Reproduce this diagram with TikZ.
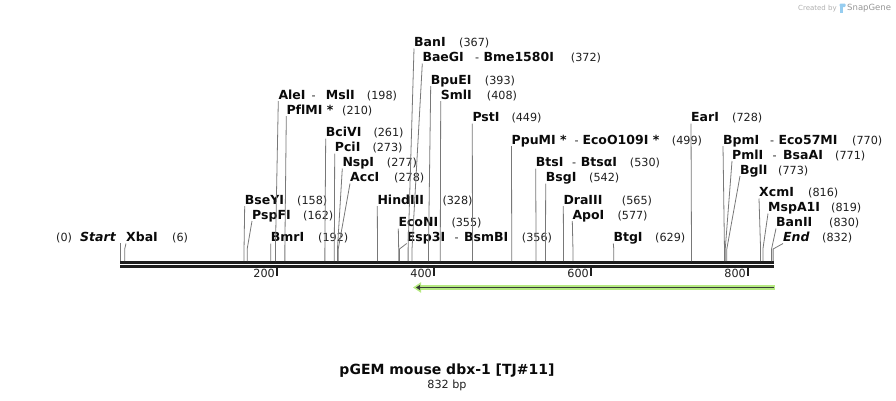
\documentclass[tikz,border=0pt]{standalone}
\usepackage{fontspec}
\setmainfont{DejaVu Sans}[Ligatures=NoCommon]
\usetikzlibrary{arrows.meta}
\definecolor{ink}{RGB}{10,10,10}
\definecolor{numink}{RGB}{30,30,30}
\definecolor{leadgrey}{RGB}{120,120,120}
\definecolor{barblack}{RGB}{30,30,30}
\definecolor{featgreen}{RGB}{182,234,130}
\definecolor{featdark}{RGB}{55,60,55}
\definecolor{credit}{RGB}{175,175,175}
\definecolor{snapblue}{RGB}{150,205,240}
% x position of a base pair on the map
\newcommand{\bpx}[1]{120+0.785*#1}
% lead line from a site label down to its cut position
\newcommand{\leadto}[1]{\draw[lead] ([yshift=-2pt]#1.base west) -- ([yshift=12pt]#1-c) -- (#1-c);}

\begin{document}
\begin{tikzpicture}[x=1pt,y=-1pt,
  enz/.style={anchor=base west,inner sep=0,text=ink,font=\fontsize{12.5}{14}\selectfont\bfseries},
  enzit/.style={enz,font=\fontsize{12.5}{14}\selectfont\bfseries\itshape},
  num/.style={anchor=base west,inner sep=0,text=numink,font=\fontsize{11.2}{13}\selectfont},
  lead/.style={draw=leadgrey,line width=0.8},
  seqbar/.style={draw=barblack,line width=2.7},
  tickmark/.style={draw=barblack,line width=1.8}]
  \useasboundingbox (0,0) rectangle (896,400);

  % credit
  \node[anchor=base west,inner sep=0,text=credit,font=\fontsize{7}{8}\selectfont] (made) at (798,10) {Created by};
  \fill[snapblue,rounded corners=1] (839.5,3.5) rectangle (845.5,7);
  \fill[snapblue] (840.3,6) rectangle (842.6,12.5);
  \node[anchor=base west,inner sep=0,text=credit!85!black,font=\fontsize{8.5}{10}\selectfont] (snap) at (847,10.3) {SnapGene};

  % sequence bar and ruler
  \draw[seqbar] (120,262.3) -- (774,262.3);
  \draw[seqbar] (120,266.3) -- (774,266.3);
  \foreach \t in {200,400,600,800}{
    \draw[tickmark] ({\bpx{\t}},267.5) -- ({\bpx{\t}},276);
    \node[num,anchor=base east] (tick\t) at ({\bpx{\t}-2},277.5) {\t};
  }

  % feature arrow
  \coordinate (featL) at (413,287.5);
  \coordinate (featR) at (775,287.5);
  \coordinate (featL2) at (416,287.5);
  \coordinate (featR2) at (773.5,287.5);
  \draw[featgreen,line width=5.5,-{Triangle[length=8pt,width=10pt]}] (featR) -- (featL);
  \draw[featdark,line width=1.6,-{Triangle[length=4pt,width=5pt]}] (featR2) -- (featL2);

  % sites, row 0
  \node[num] (start-n) at (56,241.5) {(0)};
  \node[enzit] (start) at (80,241.5) {Start};
  \coordinate (start-c) at ({\bpx{0}},261);
  \draw[lead] ([yshift=18pt]start-c) -- (start-c);

  \node[enz] (xbai) at (126,241.5) {XbaI};
  \node[num] (xbai-n) at (172,241.5) {(6)};
  \coordinate (xbai-c) at ({\bpx{6}},261);
  \leadto{xbai}

  \node[enz] (bmri) at (270.7,241.5) {BmrI};
  \node[num] (bmri-n) at (318,241.5) {(192)};
  \coordinate (bmri-c) at ({\bpx{192}},261);
  \leadto{bmri}

  \node[enz] (esp3i) at (406.7,241.5) {Esp3I};
  \node[num] (esp3i-d) at (454.5,241.5) {-};
  \node[enz] (bsmbi) at (464,241.5) {BsmBI};
  \node[num] (esp3i-n) at (521.7,241.5) {(356)};
  \coordinate (esp3i-c) at ({\bpx{356}},261);
  \leadto{esp3i}

  \node[enz] (btgi) at (613.3,241.5) {BtgI};
  \node[num] (btgi-n) at (655,241.5) {(629)};
  \coordinate (btgi-c) at ({\bpx{629}},261);
  \leadto{btgi}

  \node[enzit] (end) at (783,241.5) {End};
  \node[num] (end-n) at (822,241.5) {(832)};
  \coordinate (end-c) at ({\bpx{832}},261);
  \leadto{end}

  % rows 2 to 6
  \node[enz] (econi) at (398.3,226.5) {EcoNI};
  \node[num] (econi-n) at (451.3,226.5) {(355)};
  \coordinate (econi-c) at ({\bpx{355}},261);
  \leadto{econi}

  \node[enz] (banii) at (776,226.5) {BanII};
  \node[num] (banii-n) at (829,226.5) {(830)};
  \coordinate (banii-c) at ({\bpx{830}},261);
  \leadto{banii}

  \node[enz] (pspfi) at (252,219) {PspFI};
  \node[num] (pspfi-n) at (303,219) {(162)};
  \coordinate (pspfi-c) at ({\bpx{162}},261);
  \leadto{pspfi}

  \node[enz] (apoi) at (572.3,219) {ApoI};
  \node[num] (apoi-n) at (617.3,219) {(577)};
  \coordinate (apoi-c) at ({\bpx{577}},261);
  \leadto{apoi}

  \node[enz] (mspa1i) at (768,211.5) {MspA1I};
  \node[num] (mspa1i-n) at (831,211.5) {(819)};
  \coordinate (mspa1i-c) at ({\bpx{819}},261);
  \leadto{mspa1i}

  \node[enz] (bseyi) at (244.7,204) {BseYI};
  \node[num] (bseyi-n) at (297,204) {(158)};
  \coordinate (bseyi-c) at ({\bpx{158}},261);
  \leadto{bseyi}

  \node[enz] (hindiii) at (377.3,204) {HindIII};
  \node[num] (hindiii-n) at (442.3,204) {(328)};
  \coordinate (hindiii-c) at ({\bpx{328}},261);
  \leadto{hindiii}

  \node[enz] (draiii) at (563.3,204) {DraIII};
  \node[num] (draiii-n) at (621.7,204) {(565)};
  \coordinate (draiii-c) at ({\bpx{565}},261);
  \leadto{draiii}

  \node[enz] (xcmi) at (759,196.5) {XcmI};
  \node[num] (xcmi-n) at (808,196.5) {(816)};
  \coordinate (xcmi-c) at ({\bpx{816}},261);
  \leadto{xcmi}

  % rows 8 to 14
  \node[enz] (acci) at (350,181.5) {AccI};
  \node[num] (acci-n) at (394,181.5) {(278)};
  \coordinate (acci-c) at ({\bpx{278}},261);
  \leadto{acci}

  \node[enz] (bsgi) at (545.7,181.5) {BsgI};
  \node[num] (bsgi-n) at (589,181.5) {(542)};
  \coordinate (bsgi-c) at ({\bpx{542}},261);
  \leadto{bsgi}

  \node[enz] (bgli) at (740,174) {BglI};
  \node[num] (bgli-n) at (778,174) {(773)};
  \coordinate (bgli-c) at ({\bpx{773}},261);
  \leadto{bgli}

  \node[enz] (nspi) at (342.3,166.5) {NspI};
  \node[num] (nspi-n) at (386.7,166.5) {(277)};
  \coordinate (nspi-c) at ({\bpx{277}},261);
  \leadto{nspi}

  \node[enz] (btsi) at (535.7,166.5) {BtsI};
  \node[num] (btsi-d) at (572,166.5) {-};
  \node[enz] (btsai) at (580.7,166.5) {BtsαI};
  \node[num] (btsi-n) at (629.7,166.5) {(530)};
  \coordinate (btsi-c) at ({\bpx{530}},261);
  \leadto{btsi}

  \node[enz] (pmli) at (732,159) {PmlI};
  \node[num] (pmli-d) at (772.5,159) {-};
  \node[enz] (bsaai) at (783,159) {BsaAI};
  \node[num] (pmli-n) at (835,159) {(771)};
  \coordinate (pmli-c) at ({\bpx{771}},261);
  \leadto{pmli}

  \node[enz] (pcii) at (334.7,151.5) {PciI};
  \node[num] (pcii-n) at (372.3,151.5) {(273)};
  \coordinate (pcii-c) at ({\bpx{273}},261);
  \leadto{pcii}

  \node[enz] (ppumi) at (511.5,144) {PpuMI *};
  \node[num] (ppumi-d) at (574.3,144) {-};
  \node[enz] (ecoo109i) at (582.3,144) {EcoO109I *};
  \node[num] (ppumi-n) at (671.7,144) {(499)};
  \coordinate (ppumi-c) at ({\bpx{499}},261);
  \leadto{ppumi}

  \node[enz] (bpmi) at (723,144) {BpmI};
  \node[num] (bpmi-d) at (770,144) {-};
  \node[enz] (eco57mi) at (778.3,144) {Eco57MI};
  \node[num] (bpmi-n) at (852,144) {(770)};
  \coordinate (bpmi-c) at ({\bpx{770}},261);
  \leadto{bpmi}

  \node[enz] (bcivi) at (325.7,136.5) {BciVI};
  \node[num] (bcivi-n) at (373.3,136.5) {(261)};
  \coordinate (bcivi-c) at ({\bpx{261}},261);
  \leadto{bcivi}

  % rows 16 and up
  \node[enz] (psti) at (472.3,121.5) {PstI};
  \node[num] (psti-n) at (511.3,121.5) {(449)};
  \coordinate (psti-c) at ({\bpx{449}},261);
  \leadto{psti}

  \node[enz] (eari) at (691,121.5) {EarI};
  \node[num] (eari-n) at (732,121.5) {(728)};
  \coordinate (eari-c) at ({\bpx{728}},261);
  \leadto{eari}

  \node[enz] (pflmi) at (286.3,114) {PflMI *};
  \node[num] (pflmi-n) at (342,114) {(210)};
  \coordinate (pflmi-c) at ({\bpx{210}},261);
  \leadto{pflmi}

  \node[enz] (alei) at (278.3,99) {AleI};
  \node[num] (alei-d) at (311.5,99) {-};
  \node[enz] (msli) at (325.7,99) {MslI};
  \node[num] (alei-n) at (366.7,99) {(198)};
  \coordinate (alei-c) at ({\bpx{198}},261);
  \leadto{alei}

  \node[enz] (smli) at (440.7,99) {SmlI};
  \node[num] (smli-n) at (486.7,99) {(408)};
  \coordinate (smli-c) at ({\bpx{408}},261);
  \leadto{smli}

  \node[enz] (bpuei) at (430.7,84) {BpuEI};
  \node[num] (bpuei-n) at (484.7,84) {(393)};
  \coordinate (bpuei-c) at ({\bpx{393}},261);
  \leadto{bpuei}

  \node[enz] (baegi) at (422.3,61.5) {BaeGI};
  \node[num] (baegi-d) at (475,61.5) {-};
  \node[enz] (bme1580i) at (483.3,61.5) {Bme1580I};
  \node[num] (baegi-n) at (570.7,61.5) {(372)};
  \coordinate (baegi-c) at ({\bpx{372}},261);
  \leadto{baegi}

  \node[enz] (bani) at (414,46.5) {BanI};
  \node[num] (bani-n) at (459,46.5) {(367)};
  \coordinate (bani-c) at ({\bpx{367}},261);
  \leadto{bani}

  % title
  \node[anchor=base,inner sep=0,text=ink,font=\fontsize{14}{16}\selectfont\bfseries] (title) at (447,374) {pGEM mouse dbx-1 [TJ\#11]};
  \node[num,anchor=base] (size) at (447,388) {832 bp};
\end{tikzpicture}
\end{document}
